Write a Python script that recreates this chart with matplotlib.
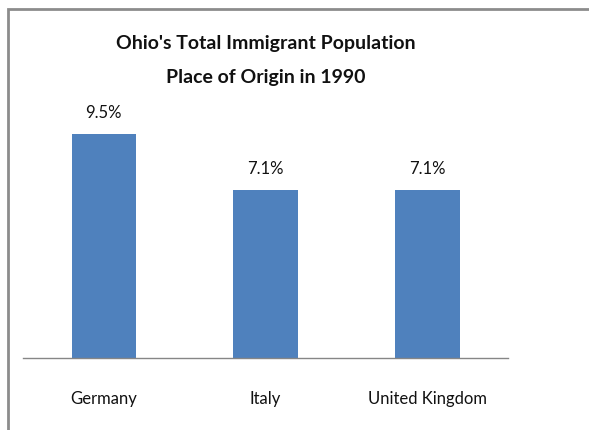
import matplotlib
matplotlib.use("Agg")
import matplotlib.pyplot as plt
from matplotlib.patches import Rectangle

# chart data
countries = ["Germany", "Italy", "United Kingdom"]
shares = [9.5, 7.1, 7.1]
share_labels = ["9.5%", "7.1%", "7.1%"]
title_lines = ["Ohio's Total Immigrant Population", "Place of Origin in 1990"]

W, H = 589, 431
fig = plt.figure(figsize=(W / 100, H / 100), dpi=100)
plt.rcParams["font.family"] = ["Lato", "DejaVu Sans"]

# outer frame, cut off at right and bottom like the source
fig.patches.append(Rectangle((8 / W, -0.1), 1.1, 1 - 10 / H + 0.1,
                             transform=fig.transFigure, fill=False,
                             edgecolor="#8c8c8c", linewidth=2))

ax = fig.add_axes([23 / W, 1 - 359 / H, 485 / W, (359 - 123) / H])
x = range(len(countries))
ax.bar(x, shares, width=0.40, color="#4f81bd")
ax.set_xlim(-0.5, 2.5)
ax.set_ylim(0, 10)

for xi, v, lab in zip(x, shares, share_labels):
    ax.annotate(lab, (xi, v), xytext=(0, 14), textcoords="offset pixels",
                ha="center", va="bottom", fontsize=12, color="#111111")

ax.set_xticks(list(x))
ax.set_xticklabels(countries, fontsize=12, color="#111111")
ax.tick_params(axis="x", length=0, pad=23)
ax.set_yticks([])
for side in ["left", "right", "top"]:
    ax.spines[side].set_visible(False)
ax.spines["bottom"].set_color("#868686")
ax.spines["bottom"].set_linewidth(1)

# title, one line at a time
for line, ypix in zip(title_lines, [44, 78]):
    fig.text(266 / W, 1 - ypix / H, line, ha="center", va="center",
             fontsize=14, fontweight="bold", color="#111111")

fig.savefig("out.png", dpi=100, facecolor="white")
